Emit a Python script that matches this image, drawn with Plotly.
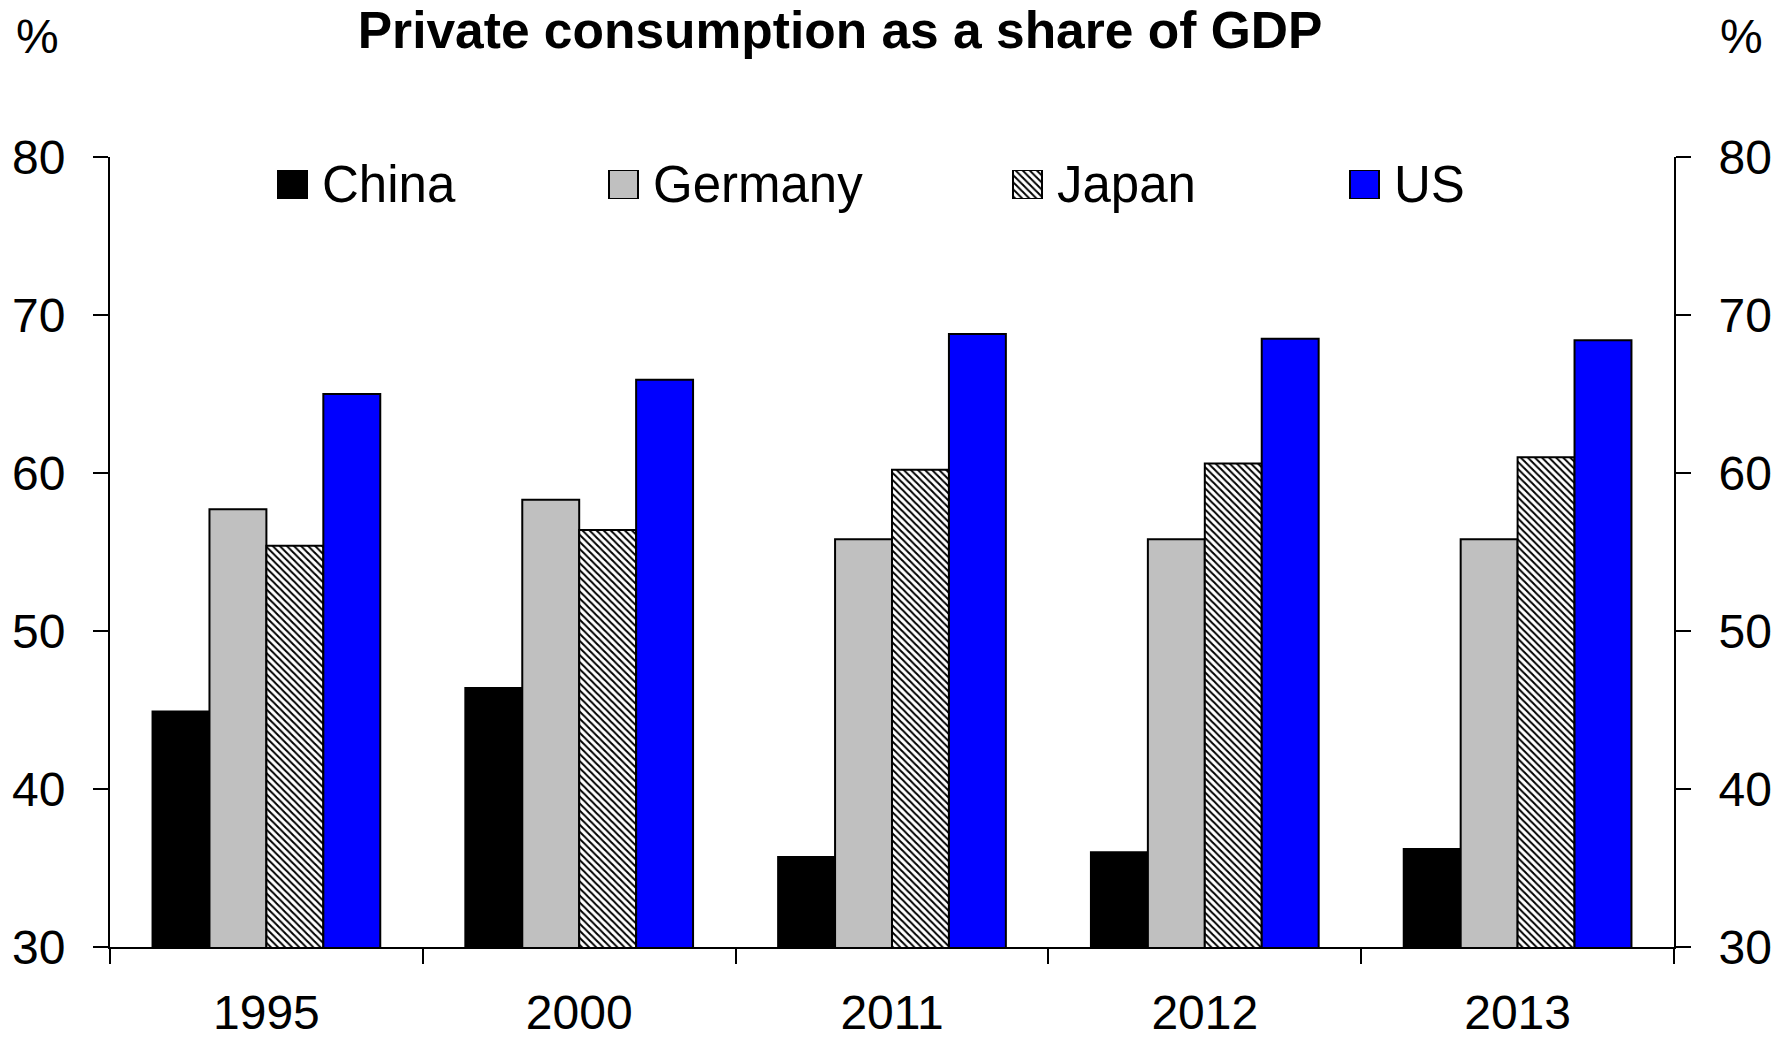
import plotly.graph_objects as go

# Data
years = ["1995", "2000", "2011", "2012", "2013"]
series_names = ["China", "Germany", "Japan", "US"]
china = [44.9, 46.4, 35.7, 36.0, 36.2]
germany = [57.7, 58.3, 55.8, 55.8, 55.8]
japan = [55.4, 56.4, 60.2, 60.6, 61.0]
us = [65.0, 65.9, 68.8, 68.5, 68.4]
y_ticks = [30, 40, 50, 60, 70, 80]

fill_colors = ["#000000", "#C0C0C0", "#FFFFFF", "#0000FF"]
patterns = ["", "", "\\", ""]

FONT = "Liberation Sans, Arial, sans-serif"
W, H = 1784, 1041
L, R, T, B = 110, 110, 157, 94
PW, PH = W - L - R, H - T - B


def bar_marker(i):
    m = dict(color=fill_colors[i], line=dict(color="#000000", width=2))
    if patterns[i]:
        m["pattern"] = dict(shape=patterns[i], fgcolor="#000000", bgcolor="#FFFFFF",
                            size=5, solidity=0.4, fillmode="replace")
    return m


fig = go.Figure()
for i, (name, vals) in enumerate(zip(series_names, [china, germany, japan, us])):
    fig.add_trace(go.Bar(x=years, y=vals, name=name, marker=bar_marker(i),
                         showlegend=False, xaxis="x", yaxis="y"))

# Transparent companion trace so the right-hand value axis is drawn
fig.add_trace(go.Scatter(x=years, y=us, mode="markers", marker=dict(opacity=0),
                         showlegend=False, hoverinfo="skip", xaxis="x", yaxis="y2"))

# Legend row: swatch boxes drawn as small bars on a helper axis, labels as text
sw_left_px = [278, 609, 1013, 1350]
sw_size = 29
sw_top_px, sw_bot_px = 170, 199
sw_centers = [(x + sw_size / 2 - L) / PW for x in sw_left_px]
for i, name in enumerate(series_names):
    fig.add_trace(go.Bar(x=[sw_centers[i]], y=[1], base=[0], width=[sw_size / PW],
                         marker=bar_marker(i), showlegend=False,
                         xaxis="x3", yaxis="y3", hoverinfo="skip"))
    fig.add_annotation(x=(sw_left_px[i] + sw_size + 13 - L) / PW, xref="paper",
                       y=(H - B - (sw_top_px + sw_bot_px) / 2) / PH, yref="paper",
                       text=name, showarrow=False, xanchor="left", yanchor="middle",
                       font=dict(family=FONT, size=51, color="#000000"))

# Unit labels on both sides
for xp in [37, 1741]:
    fig.add_annotation(x=(xp - L) / PW, xref="paper", y=(H - B - 36) / PH, yref="paper",
                       text="%", showarrow=False, xanchor="center", yanchor="middle",
                       font=dict(family=FONT, size=48, color="#000000"))

axis_font = dict(family=FONT, size=48, color="#000000")
y_common = dict(range=[30, 80], tickvals=y_ticks, showline=True, linecolor="#000000",
                linewidth=2, ticks="outside", ticklen=15, tickwidth=2, tickcolor="#000000",
                tickfont=axis_font, showgrid=False, zeroline=False, ticklabelstandoff=18,
                automargin=False)
fig.update_layout(
    width=W, height=H,
    margin=dict(l=L, r=R, t=T, b=B, autoexpand=False),
    paper_bgcolor="#FFFFFF", plot_bgcolor="#FFFFFF",
    barmode="group", bargap=0.272, bargroupgap=0,
    showlegend=False,
    title=dict(text="<b>Private consumption as a share of GDP</b>",
               x=840 / W, xref="container", xanchor="center",
               y=1 - 30 / H, yref="container", yanchor="middle",
               font=dict(family=FONT, size=51.5, color="#000000"),
               automargin=False),
    xaxis=dict(type="category", showline=True, linecolor="#000000", linewidth=2,
               ticks="outside", tickson="boundaries", ticklen=15, tickwidth=2,
               tickcolor="#000000", tickfont=axis_font, showgrid=False, zeroline=False,
               ticklabelstandoff=22, automargin=False),
    yaxis=dict(**y_common),
    yaxis2=dict(**y_common, overlaying="y", side="right"),
    xaxis3=dict(domain=[0, 1], range=[0, 1], anchor="y3", visible=False, fixedrange=True),
    yaxis3=dict(domain=[(H - B - sw_bot_px) / PH, (H - B - sw_top_px) / PH], range=[0, 1],
                anchor="x3", visible=False, fixedrange=True),
)

fig.write_html("out.html")
